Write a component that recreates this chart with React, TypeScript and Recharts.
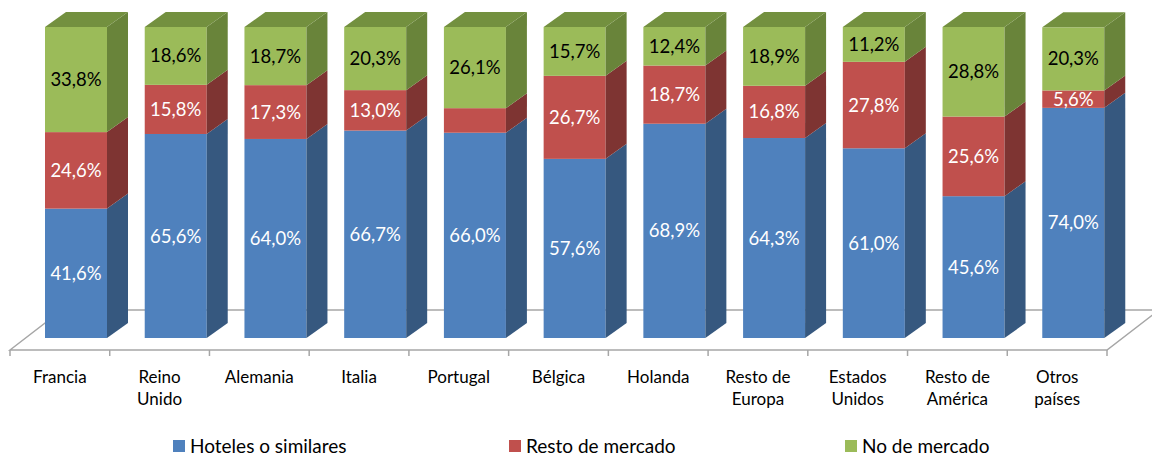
import { BarChart, Bar, XAxis, YAxis, Legend, LabelList } from 'recharts';

// Destino del gasto por país de residencia (%)
const categories = [
  'Francia',
  'Reino\nUnido',
  'Alemania',
  'Italia',
  'Portugal',
  'Bélgica',
  'Holanda',
  'Resto de\nEuropa',
  'Estados\nUnidos',
  'Resto de\nAmérica',
  'Otros\npaíses',
];
const hoteles = [41.6, 65.6, 64.0, 66.7, 66.0, 57.6, 68.9, 64.3, 61.0, 45.6, 74.0];
const restoMercado = [24.6, 15.8, 17.3, 13.0, 7.9, 26.7, 18.7, 16.8, 27.8, 25.6, 5.6];
// Portugal's red segment carries no label in the original
const restoConEtiqueta = [true, true, true, true, false, true, true, true, true, true, true];
const noMercado = [33.8, 18.6, 18.7, 20.3, 26.1, 15.7, 12.4, 18.9, 11.2, 28.8, 20.3];

const data = categories.map((name, i) => ({
  name,
  hoteles: hoteles[i],
  resto: restoMercado[i],
  restoLabel: restoConEtiqueta[i] ? restoMercado[i] : null,
  noMercado: noMercado[i],
}));

const W = 1152;
const H = 455;
const PLOT_LEFT = 26;
const PLOT_RIGHT = 1123;
const PLOT_TOP = 27;
const PLOT_BOTTOM = 338;
const DX = 21; // bar depth
const DY = -15;
const FONT = 'Lato, "Open Sans", sans-serif';

const COLORS = {
  hoteles: { front: '#4F81BD', side: '#36587F', top: '#3E6593' },
  resto: { front: '#C0504D', side: '#7E3432', top: '#8E3B38' },
  noMercado: { front: '#9BBB59', side: '#69843A', top: '#73903F' },
};

const fmt = (v: any) => (v == null ? '' : `${Number(v).toFixed(1).replace('.', ',')}%`);

function Floor() {
  const n = categories.length;
  const fl = PLOT_LEFT - 16;
  const fr = PLOT_RIGHT - 16;
  const fy = PLOT_BOTTOM + 12;
  const by = PLOT_BOTTOM - 28;
  const band = (fr - fl) / n;
  const ticks = Array.from({ length: n + 1 }, (_, i) => fl + i * band);
  return (
    <g stroke="#A6A6A6" strokeWidth={1.5} fill="none">
      <polygon points={`${fl},${fy} ${fl + 52},${by} ${fr + 52},${by} ${fr},${fy}`} fill="#fff" />
      {ticks.map((t) => (
        <line key={t} x1={t} y1={fy} x2={t} y2={fy + 6} />
      ))}
    </g>
  );
}

function make3D(c: { front: string; side: string; top: string }, withTop: boolean, withFloor: boolean) {
  return (props: any) => {
    const { x, y, width: w, height: h, index } = props;
    if (w == null || h == null) return <g />;
    return (
      <g>
        {withFloor && index === 0 && <Floor />}
        <rect x={x} y={y} width={w} height={h} fill={c.front} />
        <polygon
          points={`${x + w},${y} ${x + w + DX},${y + DY} ${x + w + DX},${y + h + DY} ${x + w},${y + h}`}
          fill={c.side}
        />
        {withTop && (
          <polygon points={`${x},${y} ${x + DX},${y + DY} ${x + w + DX},${y + DY} ${x + w},${y}`} fill={c.top} />
        )}
      </g>
    );
  };
}

const CategoryTick = ({ x, payload }: any) => {
  const lines = String(payload.value).split('\n');
  return (
    <g>
      {lines.map((l, i) => (
        <text
          key={i}
          x={x - 16}
          y={PLOT_BOTTOM + 45 + i * 22}
          textAnchor="middle"
          fill="#000"
          fontSize={17}
          fontFamily={FONT}
        >
          {l}
        </text>
      ))}
    </g>
  );
};

const legendItems = [
  { label: 'Hoteles o similares', color: COLORS.hoteles.front },
  { label: 'Resto de mercado', color: COLORS.resto.front },
  { label: 'No de mercado', color: COLORS.noMercado.front },
];

const LegendContent = () => (
  <div style={{ position: 'relative', width: W, height: 22, fontFamily: FONT }}>
    {legendItems.map((it, i) => (
      <div
        key={it.label}
        style={{ position: 'absolute', left: 173 + i * 336, top: 0, display: 'flex', alignItems: 'center' }}
      >
        <span style={{ width: 12, height: 12, background: it.color, display: 'inline-block', marginRight: 5 }} />
        <span style={{ fontSize: 19, color: '#000', lineHeight: '20px' }}>{it.label}</span>
      </div>
    ))}
  </div>
);

export default function App() {
  return (
    <div style={{ position: 'absolute', left: 0, top: 0, width: W, height: H, background: '#fff' }}>
      <BarChart
        width={W}
        height={H}
        data={data}
        barSize={62}
        margin={{ top: PLOT_TOP, right: W - PLOT_RIGHT, left: PLOT_LEFT, bottom: 57 }}
      >
        <XAxis dataKey="name" axisLine={false} tickLine={false} height={60} interval={0} tick={<CategoryTick />} />
        <YAxis hide domain={[0, 100]} />
        <Legend
          layout="horizontal"
          verticalAlign="middle"
          align="center"
          wrapperStyle={{ top: 436, left: 0, width: W }}
          content={<LegendContent />}
        />
        <Bar dataKey="hoteles" stackId="a" isAnimationActive={false} shape={make3D(COLORS.hoteles, false, true)}>
          <LabelList dataKey="hoteles" position="center" formatter={fmt} fill="#fff" fontSize={18.5} fontFamily={FONT} />
        </Bar>
        <Bar dataKey="resto" stackId="a" isAnimationActive={false} shape={make3D(COLORS.resto, false, false)}>
          <LabelList dataKey="restoLabel" position="center" formatter={fmt} fill="#fff" fontSize={18.5} fontFamily={FONT} />
        </Bar>
        <Bar dataKey="noMercado" stackId="a" isAnimationActive={false} shape={make3D(COLORS.noMercado, true, false)}>
          <LabelList dataKey="noMercado" position="center" formatter={fmt} fill="#000" fontSize={18.5} fontFamily={FONT} />
        </Bar>
      </BarChart>
    </div>
  );
}
